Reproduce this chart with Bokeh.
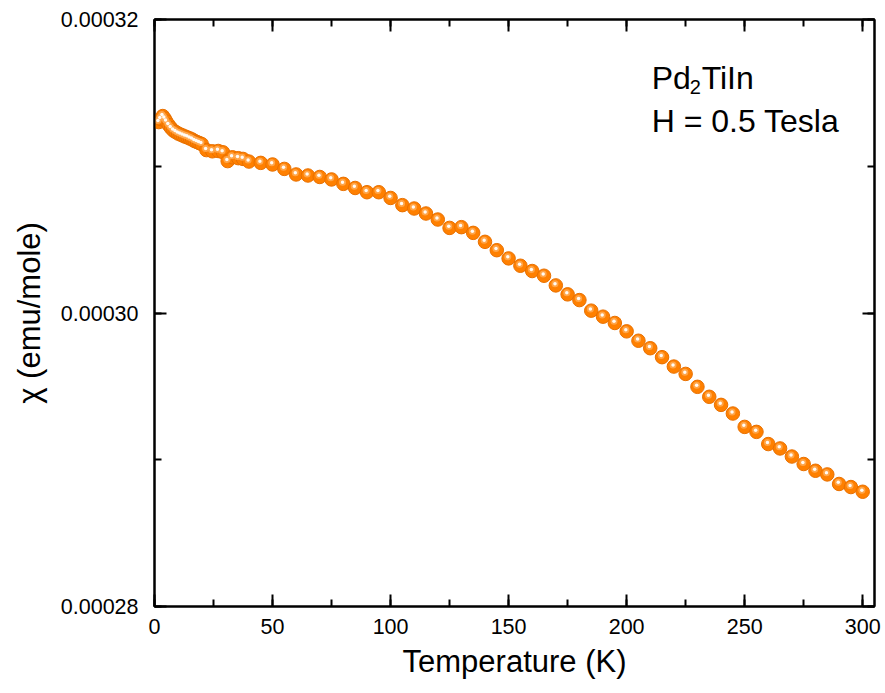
from bokeh.plotting import figure
from bokeh.models import (LinearAxis, SingleIntervalTicker, PrintfTickFormatter,
                          Range1d, Label, ColumnDataSource)
from bokeh.embed import file_html
from bokeh.resources import INLINE

# ---- data ----
temperature_K = [1.8, 2.6, 3.5, 4.3, 5, 6, 7, 8, 9, 10, 11, 12, 13, 14, 15, 16, 17, 18, 19, 20,
                 22, 24.5, 27, 29, 31, 33, 35.5, 37.5, 40, 45, 50, 55,
                 60, 65, 70, 75, 80, 85, 90, 95, 100, 105, 110, 115, 120, 125, 130, 135, 140,
                 145, 150, 155, 160, 165, 170, 175, 180, 185, 190, 195, 200, 205, 210, 215, 220,
                 225, 230, 235, 240, 245, 250, 255, 260, 265, 270, 275, 280, 285, 290, 295, 300]
chi_emu_per_mole = [0.00031301, 0.00031322, 0.00031342, 0.00031325, 0.00031305, 0.00031281,
                    0.00031260, 0.00031243, 0.00031233, 0.00031223, 0.00031216, 0.00031209,
                    0.00031202, 0.00031196, 0.00031189, 0.00031182, 0.00031172, 0.00031165,
                    0.00031158, 0.00031151,
                    0.00031110, 0.00031102, 0.00031104, 0.00031095, 0.00031035, 0.00031061,
                    0.00031055, 0.00031050, 0.00031032, 0.00031023, 0.00031012, 0.00030982,
                    0.00030944, 0.00030937, 0.00030927, 0.00030910, 0.00030880, 0.00030852,
                    0.00030823, 0.00030823, 0.00030784, 0.00030735, 0.00030712, 0.00030678,
                    0.00030637, 0.00030580, 0.00030585, 0.00030546, 0.00030485,
                    0.00030428, 0.00030372, 0.00030322, 0.00030286, 0.00030254, 0.00030188,
                    0.00030127, 0.00030088, 0.00030016, 0.00029975, 0.00029932, 0.00029875,
                    0.00029811, 0.00029760, 0.00029699, 0.00029635,
                    0.00029585, 0.00029497, 0.00029429, 0.00029374, 0.00029315, 0.00029224,
                    0.00029190, 0.00029107, 0.00029077, 0.00029022, 0.00028971, 0.00028925,
                    0.00028900, 0.00028835, 0.00028814, 0.00028782]

x_ticks_major = 50
y_ticks_major = 0.00002
sample_name = ["Pd", "2", "TiIn"]
field_text = "H = 0.5 Tesla"

FONT = "Liberation Sans"

p = figure(width=885, height=693,
           x_range=Range1d(0, 305), y_range=Range1d(0.00028, 0.00032),
           output_backend="svg", toolbar_location=None,
           min_border_left=154, min_border_right=11, min_border_top=19, min_border_bottom=87,
           x_axis_label="Temperature (K)", y_axis_label="\u03c7 (emu/mole)")
p.grid.visible = False
p.outline_line_color = "black"
p.outline_line_width = 2
p.background_fill_color = "white"
p.border_fill_color = "white"


def style_axis(ax, show_labels=True):
    ax.axis_line_width = 2
    ax.axis_line_color = "black"
    ax.major_tick_in = 12
    ax.major_tick_out = 0
    ax.minor_tick_in = 7
    ax.minor_tick_out = 0
    ax.major_tick_line_width = 2
    ax.minor_tick_line_width = 2
    ax.major_label_text_font = FONT
    ax.major_label_text_font_size = "21.5px"
    ax.major_label_text_color = "black"
    ax.axis_label_text_font = FONT
    ax.axis_label_text_font_size = "31px"
    ax.axis_label_text_font_style = "normal"
    ax.axis_label_text_color = "black"
    if not show_labels:
        ax.major_label_text_font_size = "1px"
        ax.major_label_text_color = None
        ax.major_label_text_alpha = 0
        ax.major_label_standoff = 0
        ax.axis_label = None


xa = p.xaxis[0]
xa.ticker = SingleIntervalTicker(interval=x_ticks_major, num_minor_ticks=2)
style_axis(xa)
xa.major_label_standoff = 12
xa.axis_label_standoff = 7

ya = p.yaxis[0]
ya.ticker = SingleIntervalTicker(interval=y_ticks_major, num_minor_ticks=2)
ya.formatter = PrintfTickFormatter(format="%.5f")
style_axis(ya)
ya.major_label_standoff = 16
ya.axis_label_standoff = 11

top = LinearAxis(ticker=SingleIntervalTicker(interval=x_ticks_major, num_minor_ticks=2))
style_axis(top, show_labels=False)
p.add_layout(top, "above")
right = LinearAxis(ticker=SingleIntervalTicker(interval=y_ticks_major, num_minor_ticks=2))
style_axis(right, show_labels=False)
p.add_layout(right, "right")

# spheres: base + glow + highlight
src = ColumnDataSource(dict(
    t=temperature_K, c=chi_emu_per_mole,
    th=[t - 0.35 for t in temperature_K],
    ch=[c + 0.000000110 for c in chi_emu_per_mole],
))
p.scatter("t", "c", source=src, size=13.5, fill_color="#ff8000", line_color="#e87000", line_width=1)
p.scatter("th", "ch", source=src, size=7, fill_color="#ffa850", line_color=None, fill_alpha=0.9)
p.scatter("th", "ch", source=src, size=3.5, fill_color="white", line_color=None, fill_alpha=0.95)

# annotation
ax0 = 210.6
lab_kw = dict(text_font=FONT, text_color="black", text_baseline="alphabetic", text_align="left")
p.add_layout(Label(x=ax0, y=0.00031598, text=sample_name[0], text_font_size="32px", **lab_kw))
p.add_layout(Label(x=ax0, y=0.00031598, x_offset=38, y_offset=-9, text=sample_name[1],
                   text_font_size="20px", **lab_kw))
p.add_layout(Label(x=ax0, y=0.00031598, x_offset=50, text=sample_name[2],
                   text_font_size="32px", **lab_kw))
p.add_layout(Label(x=ax0, y=0.00031305, text=field_text, text_font_size="32px", **lab_kw))

open("out.html", "w").write(file_html(p, INLINE))
